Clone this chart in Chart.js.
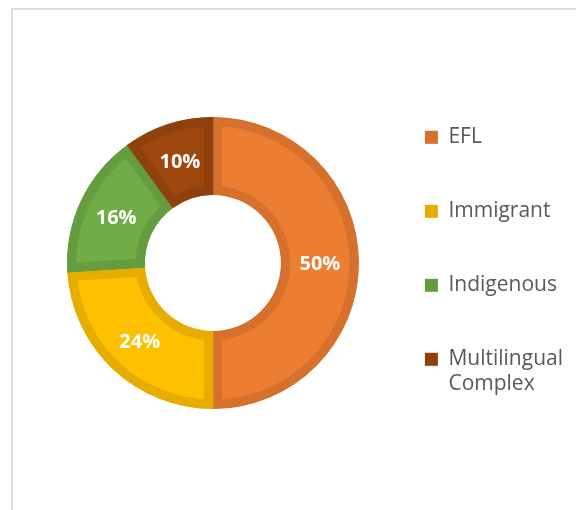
<!DOCTYPE html>
<html>
<head>
<meta charset="utf-8">
<script src="https://cdn.jsdelivr.net/npm/chart.js@4"></script>
<style>
  html, body { margin: 0; padding: 0; background: #ffffff; }
  #frame { position: absolute; left: 11px; top: 8px; width: 580px; height: 520px;
           border-left: 2px solid #dcdcdc; border-top: 2px solid #dcdcdc; }
  #c { position: absolute; left: 0; top: 0; }
</style>
</head>
<body>
<div id="frame"></div>
<canvas id="c" width="576" height="510"></canvas>
<script>
const categories = ['EFL', 'Immigrant', 'Indigenous', ['Multilingual', 'Complex']];
const shares = [50, 24, 16, 10];
const fillColors = ['#ED7D31', '#FFC000', '#70AD47', '#9E480E'];
const edgeColors = ['#D5712C', '#E6AD00', '#659C40', '#8E410D'];

const sliceLabels = {
  id: 'sliceLabels',
  afterDatasetsDraw(chart) {
    const ctx = chart.ctx;
    const meta = chart.getDatasetMeta(0);
    ctx.save();
    ctx.fillStyle = '#ffffff';
    ctx.font = 'bold 20px "Open Sans"';
    ctx.textAlign = 'center';
    ctx.textBaseline = 'middle';
    meta.data.forEach((arc, i) => {
      const p = arc.tooltipPosition();
      ctx.fillText(shares[i] + '%', p.x, p.y + 1);
    });
    ctx.restore();
  }
};

new Chart(document.getElementById('c'), {
  type: 'doughnut',
  data: {
    labels: categories,
    datasets: [{
      data: shares,
      backgroundColor: fillColors,
      borderColor: edgeColors,
      borderWidth: 9,
      hoverBorderWidth: 9,
      borderAlign: 'inner',
      borderJoinStyle: 'miter'
    }]
  },
  options: {
    responsive: false,
    animation: false,
    radius: 146,
    cutout: 74,
    layout: { padding: { top: 70, bottom: 54, left: 54, right: 3 } },
    plugins: {
      tooltip: { enabled: false },
      legend: {
        position: 'right',
        align: 'center',
        labels: {
          boxWidth: 13,
          boxHeight: 13,
          padding: 53,
          color: '#595959',
          font: { family: '"Open Sans"', size: 21 },
          generateLabels(chart) {
            const ds = chart.data.datasets[0];
            return chart.data.labels.map((lab, i) => ({
              text: lab,
              fillStyle: ds.borderColor[i],
              strokeStyle: ds.borderColor[i],
              lineWidth: 0,
              hidden: false,
              index: i,
              fontColor: '#595959'
            }));
          }
        }
      }
    }
  },
  plugins: [sliceLabels]
});
</script>
</body>
</html>
